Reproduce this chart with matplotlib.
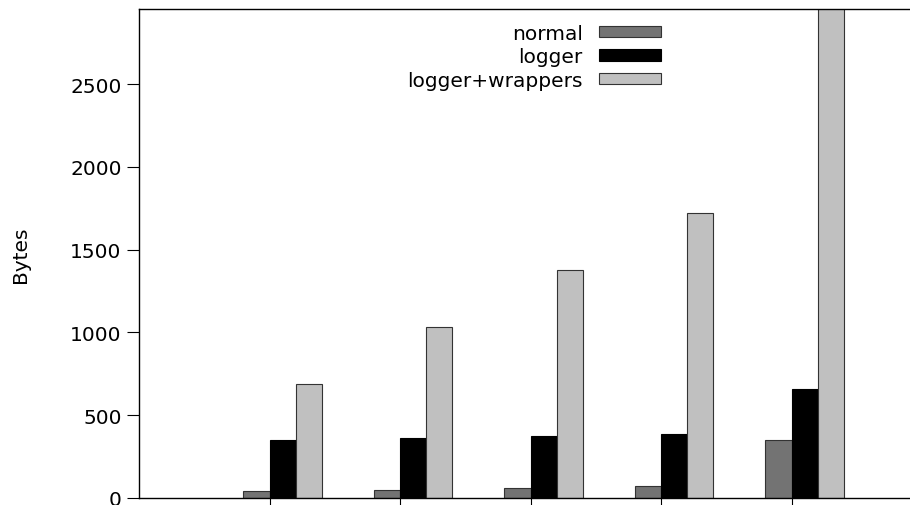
import numpy as np
import matplotlib.pyplot as plt

groups = [1, 2, 3, 4, 5]
normal = [42, 50, 60, 71, 350]
logger = [352, 362, 374, 386, 658]
wrappers = [688, 1033, 1377, 1721, 3100]
yticks = [0, 500, 1000, 1500, 2000, 2500]

plt.rcParams['font.family'] = 'DejaVu Sans'
plt.rcParams['font.size'] = 14.5

fig = plt.figure(figsize=(9.1, 5.06), dpi=100)
ax = fig.add_axes([139 / 910, 7 / 506, 783 / 910, 489 / 506])

x = np.array(groups)
w = 0.2
ax.bar(x - w, normal, w, align='edge', color='#737373', edgecolor='#333333', linewidth=0.8, label='normal')
ax.bar(x, logger, w, align='edge', color='black', edgecolor='black', linewidth=0.8, label='logger')
ax.bar(x + w, wrappers, w, align='edge', color='#c0c0c0', edgecolor='#333333', linewidth=0.8, label='logger+wrappers')

ax.set_xlim(0, 6)
ax.set_ylim(0, 2953)
ax.set_yticks(yticks)
ax.set_xticks(groups)
ax.set_xticklabels([])
ax.tick_params(axis='both', direction='out', length=9, width=0.8)
ax.set_ylabel('Bytes', labelpad=29)
for s in ax.spines.values():
    s.set_linewidth(1.0)

ax.legend(loc='upper left', bbox_to_anchor=(252 / 783, 1.003), frameon=False,
          markerfirst=False, handlelength=3.1, handleheight=0.5,
          labelspacing=0.22, handletextpad=0.8, borderpad=0.3)
for t in ax.get_legend().get_texts():
    t.set_ha('right')

fig.savefig('out.png', dpi=100)
